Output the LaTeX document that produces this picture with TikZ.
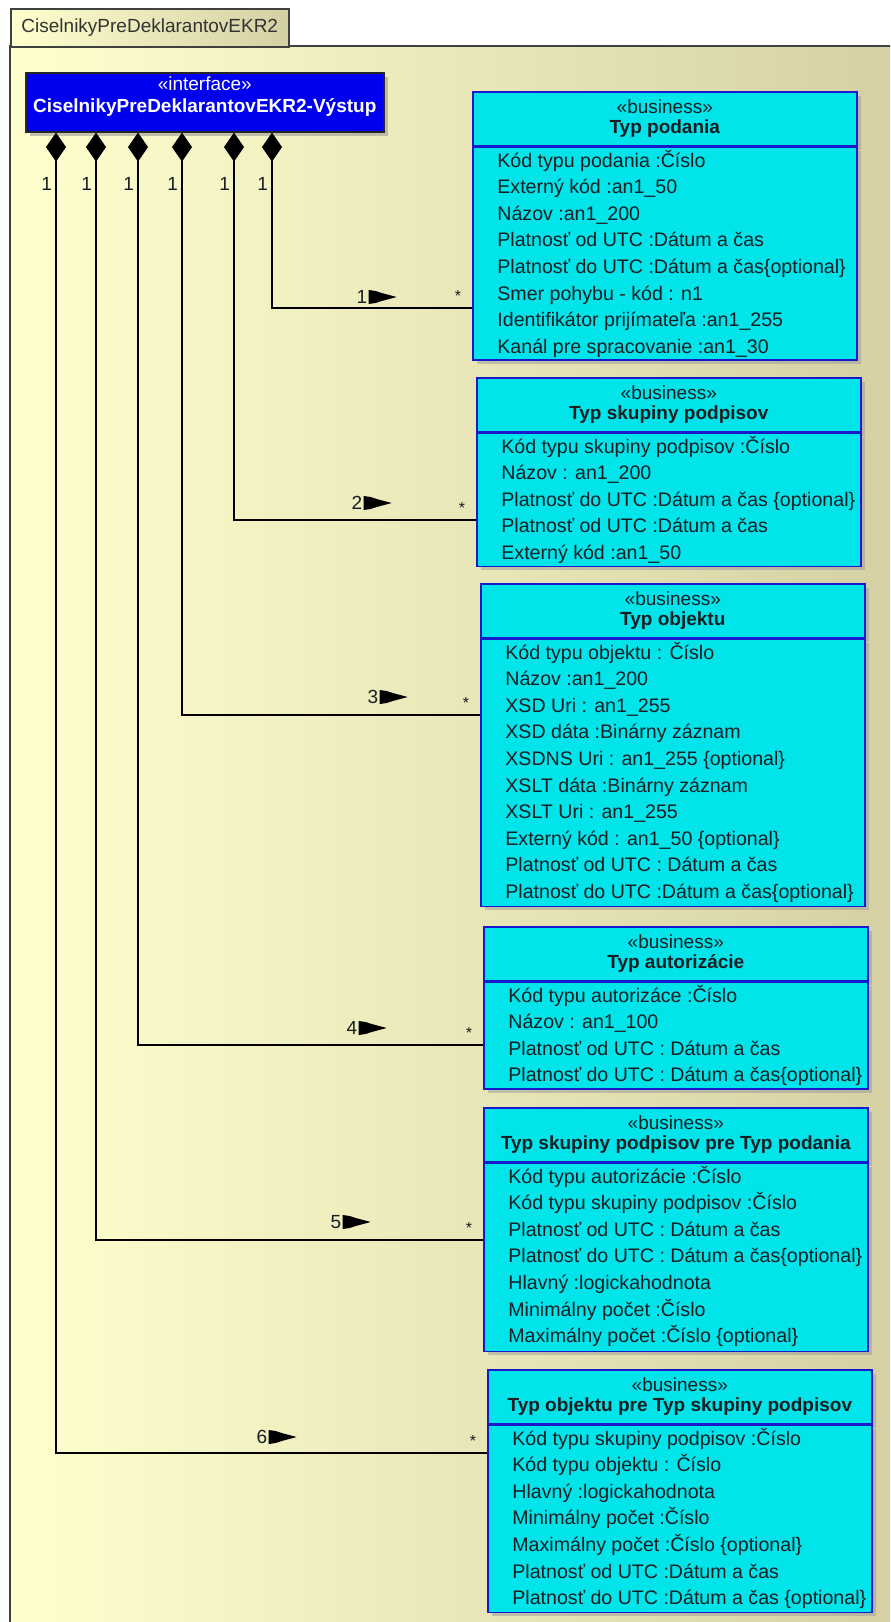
\documentclass[tikz,border=0pt]{standalone}
\usepackage{fontspec}
\setmainfont{Liberation Sans}
\usetikzlibrary{positioning,shadows,arrows.meta}

\definecolor{paneL}{RGB}{255,255,206}
\definecolor{paneR}{RGB}{212,208,164}
\definecolor{ifaceblue}{RGB}{0,0,238}
\definecolor{clscyan}{RGB}{0,228,234}
\definecolor{clsline}{RGB}{24,24,205}
\definecolor{ink}{RGB}{22,30,34}

\tikzset{
  pane/.style={draw=black!75, line width=0.8pt, left color=paneL, right color=paneR},
  tab/.style={pane, minimum width=139pt, minimum height=19pt, inner sep=0pt, text=black!80, font=\fontsize{9.5}{11}\selectfont},
  iface/.style={draw=black!85, line width=0.8pt, fill=ifaceblue, minimum width=179pt, minimum height=29.5pt, inner sep=0pt,
    drop shadow={shadow xshift=2pt, shadow yshift=-2pt, fill=black!45}},
  ifacetext/.style={text=white, align=center, inner sep=0pt, font=\fontsize{9.5}{11}\selectfont},
  clshead/.style={draw=clsline, line width=0.8pt, fill=clscyan, text=ink, minimum width=192pt, minimum height=27pt, inner sep=0pt,
    align=center, font=\fontsize{9.5}{10}\selectfont, drop shadow={shadow xshift=2pt, shadow yshift=-2pt, fill=black!40}},
  clsbody/.style={draw=clsline, line width=0.8pt, fill=clscyan, minimum width=192pt, inner sep=0pt,
    drop shadow={shadow xshift=2pt, shadow yshift=-2pt, fill=black!40}},
  attrs/.style={text=ink, align=left, inner sep=0pt, font=\fontsize{9.8}{13.3}\selectfont, execute at begin node=\strut},
  comp/.style={draw=black, line width=1pt, arrows={Diamond[length=14.5pt,width=10pt]-}},
  mult/.style={text=ink, inner sep=0pt, font=\fontsize{9.5}{11}\selectfont},
  one/.style={mult, anchor=north east, xshift=-1.5pt, yshift=-22pt},
  many/.style={text=ink, inner sep=0pt, font=\fontsize{8}{8}\selectfont, anchor=base east, xshift=-5pt, yshift=3.4pt},
  navtip/.pic={\fill[black] (0,-7) -- (7,-6) -- (13,-4) -- (28,0) -- (13,4) -- (7,6) -- (0,7) -- cycle;}
}

\begin{document}
\begin{tikzpicture}[x=0.5pt,y=-0.5pt]
    \useasboundingbox (0,0) rectangle (890,1622);
    \clip (0,0) rectangle (890,1622);
    \fill[white] (0,0) rectangle (890,1622);

    % Balik
    \draw[pane] (10,46) rectangle (900,1640);
    \node[tab, anchor=north west] (pkg) at (10,8) {CiselnikyPreDeklarantovEKR2};

    % Rozhranie
    \node[iface, anchor=north west] (iface) at (25,72) {};
    \node[ifacetext, anchor=north] (ifaceT) at ([yshift=-2pt]iface.north) {«interface»\\\textbf{CiselnikyPreDeklarantovEKR2-Výstup}};

    % Typ podania
    \node[clshead, anchor=north west] (podaniaH) at (472,91) {«business»\\\textbf{Typ podania}};
    \node[clsbody, below=0pt of podaniaH, minimum height=106.4pt] (podania) {};
    \node[attrs, anchor=north west] (podaniaA) at ([xshift=12.5pt,yshift=-1.5pt]podania.north west)
        {Kód typu podania :Číslo\\Externý kód :an1\_50\\Názov :an1\_200\\Platnosť od UTC :Dátum a čas\\
         Platnosť do UTC :Dátum a čas\{optional\}\\Smer pohybu - kód : n1\\Identifikátor prijímateľa :an1\_255\\
         Kanál pre spracovanie :an1\_30};

    % Typ skupiny podpisov
    \node[clshead, anchor=north west] (skupinyH) at (476,377) {«business»\\\textbf{Typ skupiny podpisov}};
    \node[clsbody, below=0pt of skupinyH, minimum height=66.5pt] (skupiny) {};
    \node[attrs, anchor=north west] (skupinyA) at ([xshift=12.5pt,yshift=-1.5pt]skupiny.north west)
        {Kód typu skupiny podpisov :Číslo\\Názov : an1\_200\\Platnosť do UTC :Dátum a čas \{optional\}\\
         Platnosť od UTC :Dátum a čas\\Externý kód :an1\_50};

    % Typ objektu
    \node[clshead, anchor=north west] (objektuH) at (480,583) {«business»\\\textbf{Typ objektu}};
    \node[clsbody, below=0pt of objektuH, minimum height=133.5pt] (objektu) {};
    \node[attrs, anchor=north west] (objektuA) at ([xshift=12.5pt,yshift=-1.5pt]objektu.north west)
        {Kód typu objektu : Číslo\\Názov :an1\_200\\XSD Uri : an1\_255\\XSD dáta :Binárny záznam\\
         XSDNS Uri : an1\_255 \{optional\}\\XSLT dáta :Binárny záznam\\XSLT Uri : an1\_255\\
         Externý kód : an1\_50 \{optional\}\\Platnosť od UTC : Dátum a čas\\Platnosť do UTC :Dátum a čas\{optional\}};

    % Typ autorizacie
    \node[clshead, anchor=north west] (autorizacieH) at (483,926) {«business»\\\textbf{Typ autorizácie}};
    \node[clsbody, below=0pt of autorizacieH, minimum height=53.4pt] (autorizacie) {};
    \node[attrs, anchor=north west] (autorizacieA) at ([xshift=12.5pt,yshift=-1.5pt]autorizacie.north west)
        {Kód typu autorizáce :Číslo\\Názov : an1\_100\\Platnosť od UTC : Dátum a čas\\Platnosť do UTC : Dátum a čas\{optional\}};

    % Typ skupiny podpisov pre Typ podania
    \node[clshead, anchor=north west] (skpodH) at (483,1107) {«business»\\\textbf{Typ skupiny podpisov pre Typ podania}};
    \node[clsbody, below=0pt of skpodH, minimum height=94pt] (skpod) {};
    \node[attrs, anchor=north west] (skpodA) at ([xshift=12.5pt,yshift=-1.5pt]skpod.north west)
        {Kód typu autorizácie :Číslo\\Kód typu skupiny podpisov :Číslo\\Platnosť od UTC : Dátum a čas\\
         Platnosť do UTC : Dátum a čas\{optional\}\\Hlavný :logickahodnota\\Minimálny počet :Číslo\\
         Maximálny počet :Číslo \{optional\}};

    % Typ objektu pre Typ skupiny podpisov
    \node[clshead, anchor=north west] (objskH) at (487,1369) {«business»\\\textbf{Typ objektu pre Typ skupiny podpisov}};
    \node[clsbody, below=0pt of objskH, minimum height=93.5pt] (objsk) {};
    \node[attrs, anchor=north west] (objskA) at ([xshift=12.5pt,yshift=-1.5pt]objsk.north west)
        {Kód typu skupiny podpisov :Číslo\\Kód typu objektu : Číslo\\Hlavný :logickahodnota\\
         Minimálny počet :Číslo\\Maximálny počet :Číslo \{optional\}\\Platnosť od UTC :Dátum a čas\\
         Platnosť do UTC :Dátum a čas \{optional\}};

    % Kompozicie
    \draw[comp] (iface.south -| 272,0) node[one]{1} |- (podania.west |- 0,308) node[many]{*};
    \draw[comp] (iface.south -| 234,0) node[one]{1} |- (skupiny.west |- 0,520) node[many]{*};
    \draw[comp] (iface.south -| 182,0) node[one]{1} |- (objektu.west |- 0,715) node[many]{*};
    \draw[comp] (iface.south -| 138,0) node[one]{1} |- (autorizacie.west |- 0,1045) node[many]{*};
    \draw[comp] (iface.south -| 96,0) node[one]{1} |- (skpod.west |- 0,1240) node[many]{*};
    \draw[comp] (iface.south -| 56,0) node[one]{1} |- (objsk.west |- 0,1453) node[many]{*};

    % Popisky smeru
    \node[mult] (m1) at (362,297) {1};
    \node[mult] (m2) at (357,503) {2};
    \node[mult] (m3) at (373,697) {3};
    \node[mult] (m4) at (352,1028) {4};
    \node[mult] (m5) at (336,1222) {5};
    \node[mult] (m6) at (262,1437) {6};
    \foreach \m in {m1,m2,m3,m4,m5,m6}
        \pic at ([xshift=0.5pt]\m.east) {navtip};
\end{tikzpicture}
\end{document}
